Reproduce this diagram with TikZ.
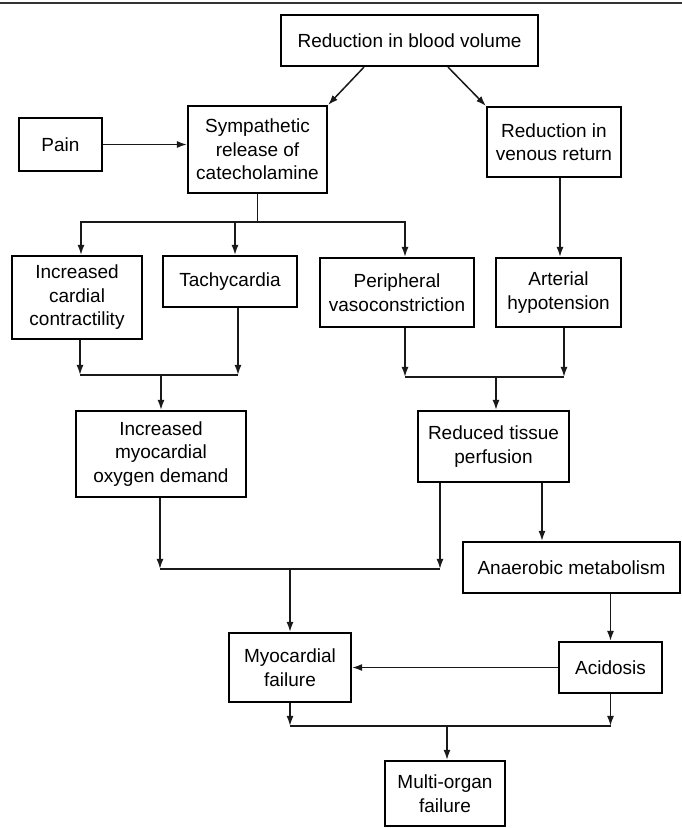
\documentclass[tikz,border=0pt]{standalone}
\usepackage{fontspec}
\setmainfont{Liberation Sans}
\usetikzlibrary{arrows.meta}
\tikzset{
  box/.style={draw=black, line width=2.2pt, inner sep=0pt, align=center,
    font=\fontsize{19}{23.5}\selectfont},
  link/.style={line width=1.5pt, draw=black!90},
  arr/.style={link, -{Latex[length=10pt,width=7pt]}},
}
\begin{document}
\begin{tikzpicture}[x=1pt,y=-1pt]
\useasboundingbox (0,0) rectangle (682,828);
\draw[line width=1.8pt, black!80] (0,3) -- (682,3);

\node[box, minimum width=257, minimum height=51] (top) at (409.5,40.5) {Reduction in blood volume};
\node[box, minimum width=83, minimum height=53] (pain) at (60.5,144.5) {Pain};
\node[box, minimum width=139, minimum height=87] (symp) at (257.5,149.5) {Sympathetic\\release of\\catecholamine};
\node[box, minimum width=134, minimum height=70] (venous) at (554,142) {Reduction in\\venous return};
\node[box, minimum width=130, minimum height=83] (cardial) at (77,297.5) {Increased\\cardial\\contractility};
\node[box, minimum width=134, minimum height=51] (tachy) at (230,281.5) {Tachycardia};
\node[box, minimum width=154, minimum height=69] (periph) at (397,292.5) {Peripheral\\vasoconstriction};
\node[box, minimum width=125, minimum height=69] (arterial) at (558.5,292.5) {Arterial\\hypotension};
\node[box, minimum width=170, minimum height=86] (oxy) at (161,454) {Increased\\myocardial\\oxygen demand};
\node[box, minimum width=151, minimum height=71] (tissue) at (493.5,446.5) {Reduced tissue\\perfusion};
\node[box, minimum width=217, minimum height=51] (anaer) at (571.5,567.5) {Anaerobic metabolism};
\node[box, minimum width=122, minimum height=69] (myofail) at (290,667.5) {Myocardial\\failure};
\node[box, minimum width=103, minimum height=51] (acid) at (610.5,667.5) {Acidosis};
\node[box, minimum width=120, minimum height=65] (multi) at (445,793.5) {Multi-organ\\failure};

% top level
\draw[arr] ([xshift=-45.5]top.south) -- (symp.north east);
\draw[arr] ([xshift=38.5]top.south) -- (venous.north west);
\draw[arr] (pain.east) -- (symp.west |- pain.east);

% sympathetic fan-out
\draw[link] (symp.south) -- ++(0,28) coordinate (b1);
\draw[arr] (b1) -| ([xshift=4]cardial.north);
\draw[arr] (b1) -| ([xshift=5]tachy.north);
\draw[arr] (b1) -| ([xshift=8]periph.north);

% venous -> arterial
\draw[arr] ([xshift=6]venous.south) -- ([xshift=6]venous.south |- arterial.north);

% cardial + tachy -> oxy
\path (oxy.north) ++(0,-35) coordinate (j1);
\draw[arr] ([xshift=3]cardial.south) -- ([xshift=3]cardial.south |- j1);
\draw[arr] ([xshift=8]tachy.south) -- ([xshift=8]tachy.south |- j1);
\draw[link] ([xshift=3]cardial.south |- j1) -- ([xshift=8]tachy.south |- j1);
\draw[arr] (j1) -- (oxy.north);

% periph + arterial -> tissue
\path ([xshift=2.5]tissue.north) ++(0,-33) coordinate (j2);
\draw[arr] ([xshift=8]periph.south) -- ([xshift=8]periph.south |- j2);
\draw[arr] ([xshift=5.5]arterial.south) -- ([xshift=5.5]arterial.south |- j2);
\draw[link] ([xshift=8]periph.south |- j2) -- ([xshift=5.5]arterial.south |- j2);
\draw[arr] (j2) -- ([xshift=2.5]tissue.north);

% oxy + tissue -> myocardial failure
\path (myofail.north) ++(0,-63) coordinate (j3);
\draw[arr] ([xshift=-1]oxy.south) -- ([xshift=-1]oxy.south |- j3);
\draw[arr] ([xshift=-53.5]tissue.south) -- ([xshift=-53.5]tissue.south |- j3);
\draw[link] ([xshift=-1]oxy.south |- j3) -- ([xshift=-53.5]tissue.south |- j3);
\draw[arr] (j3) -- (myofail.north);

% tissue -> anaerobic -> acidosis
\draw[arr] ([xshift=48.5]tissue.south) -- ([xshift=48.5]tissue.south |- anaer.north);
\draw[arr] (anaer.south -| acid.north) -- (acid.north);
\draw[arr] (acid.west) -- (myofail.east |- acid.west);

% myocardial failure + acidosis -> multi-organ
\path ([xshift=2]multi.north) ++(0,-34) coordinate (j4);
\draw[arr] (myofail.south) -- (myofail.south |- j4);
\draw[arr] (acid.south) -- (acid.south |- j4);
\draw[link] (myofail.south |- j4) -- (acid.south |- j4);
\draw[arr] (j4) -- ([xshift=2]multi.north);
\end{tikzpicture}
\end{document}
